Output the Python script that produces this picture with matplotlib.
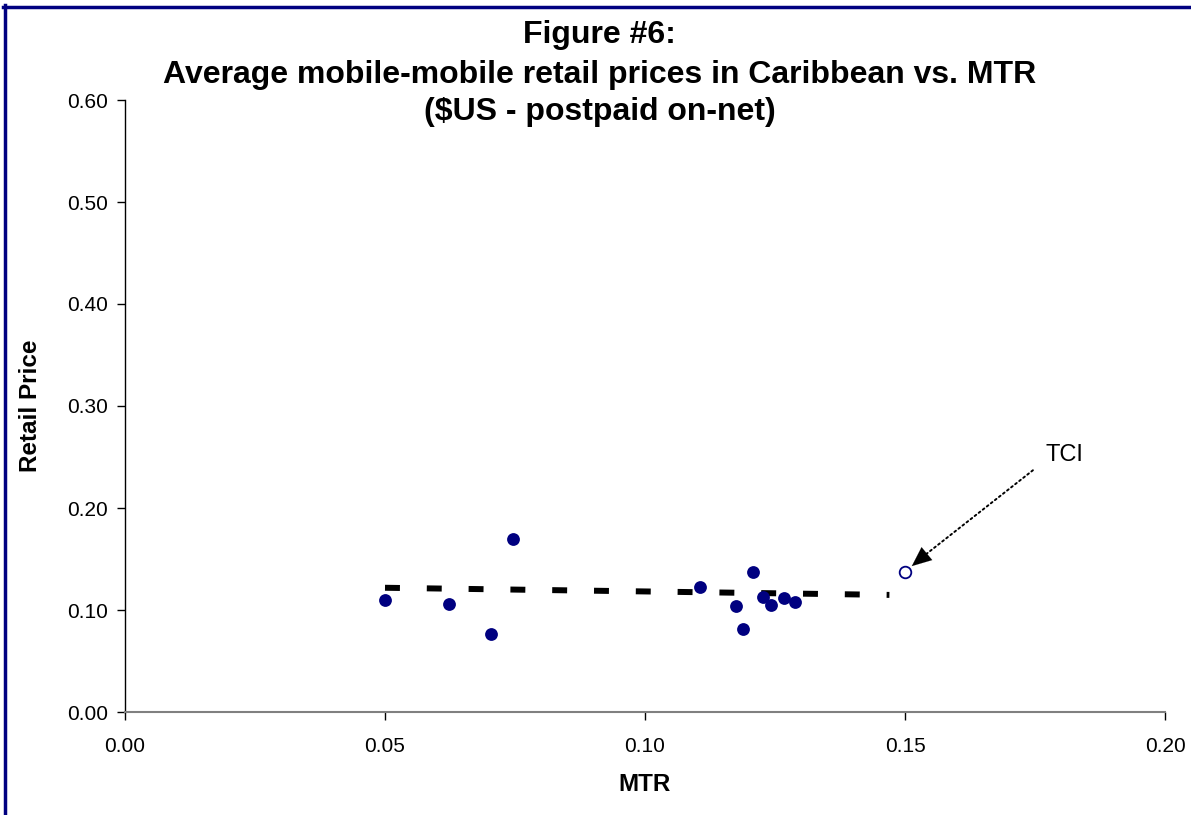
import matplotlib
matplotlib.use("Agg")
import matplotlib.pyplot as plt
from matplotlib.lines import Line2D

plt.rcParams['font.family'] = ['Liberation Sans', 'DejaVu Sans']

# Data
mtr = [0.050, 0.0623, 0.0704, 0.0746, 0.1106, 0.1208, 0.1175, 0.1188,
       0.1227, 0.1242, 0.1267, 0.1288]
price = [0.110, 0.106, 0.0765, 0.170, 0.1225, 0.137, 0.104, 0.081,
         0.113, 0.105, 0.112, 0.108]
tci_mtr = [0.150]
tci_price = [0.137]
trend_x = [0.050, 0.147]
trend_y = [0.1218, 0.1148]

xticks = [0.00, 0.05, 0.10, 0.15, 0.20]
yticks = [0.00, 0.10, 0.20, 0.30, 0.40, 0.50, 0.60]

W, H, DPI = 1191, 815, 100
fig = plt.figure(figsize=(W / DPI, H / DPI), dpi=DPI)
ax = fig.add_axes([125 / W, 1 - 712 / H, (1165 - 125) / W, (712 - 100) / H])

ax.plot(trend_x, trend_y, color='black', lw=4.3, linestyle=(0, (2.5, 4.5)),
        solid_capstyle='butt', dash_capstyle='butt', zorder=2)
ax.scatter(mtr, price, s=85, color='#000080', zorder=3, linewidths=0)
ax.scatter(tci_mtr, tci_price, s=70, facecolor='white', edgecolor='#000080',
           linewidths=1.3, zorder=3)

# dotted shaft
ax.annotate('', xy=(0.1525, 0.1485), xytext=(0.1746, 0.237),
            arrowprops=dict(arrowstyle='-', linestyle=':', lw=1.4,
                            color='black', shrinkA=0, shrinkB=0))
# solid head
ax.annotate('', xy=(0.1513, 0.143), xytext=(0.1545, 0.1565),
            arrowprops=dict(arrowstyle='-|>,head_length=0.7,head_width=0.3',
                            lw=0.1, color='black', mutation_scale=20,
                            shrinkA=0, shrinkB=0))
ax.text(0.1771, 0.252, 'TCI', fontsize=17, ha='left', va='center')

ax.set_xlim(0, 0.20)
ax.set_ylim(0, 0.60)
ax.set_xticks(xticks)
ax.set_yticks(yticks)
ax.set_xticklabels([f'{v:.2f}' for v in xticks])
ax.set_yticklabels([f'{v:.2f}' for v in yticks])
ax.tick_params(axis='both', direction='out', length=6, width=1, labelsize=15,
               color='black')
ax.tick_params(axis='x', pad=12)
ax.tick_params(axis='y', pad=6)
for s in ['top', 'right']:
    ax.spines[s].set_visible(False)
ax.spines['left'].set_color('black')
ax.spines['left'].set_linewidth(1)
ax.spines['bottom'].set_color('#808080')
ax.spines['bottom'].set_linewidth(1.5)

ax.set_xlabel('MTR', fontsize=17.5, fontweight='bold', labelpad=12)
ax.set_ylabel('Retail Price', fontsize=17.5, fontweight='bold', labelpad=18)

fig.text(0.5035, 1 - 35 / H, 'Figure #6:', ha='center', va='center',
         fontsize=23, fontweight='bold')
fig.text(0.5035, 1 - 75 / H,
         'Average mobile-mobile retail prices in Caribbean vs. MTR',
         ha='center', va='center', fontsize=23, fontweight='bold')
fig.text(0.5035, 1 - 112 / H, '($US - postpaid on-net)', ha='center',
         va='center', fontsize=23, fontweight='bold')

# navy frame (left and top edges visible)
fig.add_artist(Line2D([4.5 / W, 4.5 / W], [0, 1 - 5 / H], color='#000080',
                      lw=2.5, transform=fig.transFigure))
fig.add_artist(Line2D([3 / W, 1], [1 - 6.5 / H, 1 - 6.5 / H], color='#000080',
                      lw=2.5, transform=fig.transFigure))

fig.savefig('out.png', dpi=DPI)
